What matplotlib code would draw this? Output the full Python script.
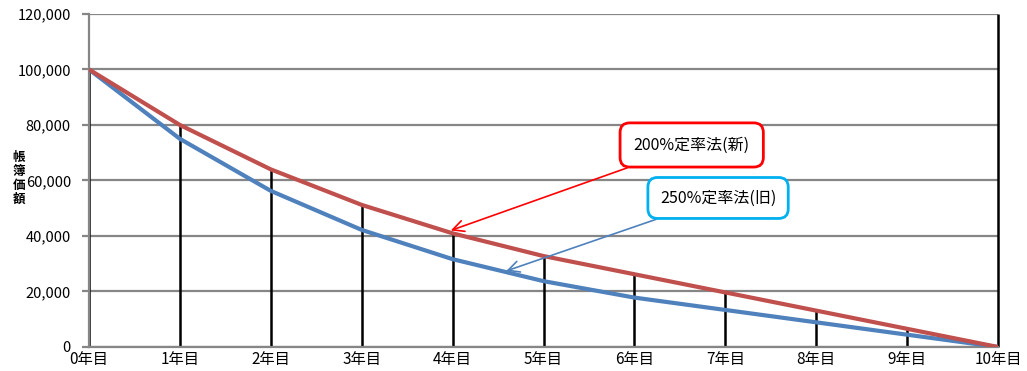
import matplotlib
matplotlib.use("Agg")
import matplotlib.pyplot as plt

plt.rcParams["font.family"] = ["Noto Sans CJK JP", "DejaVu Sans"]

# === DATA ===
years = list(range(11))
year_labels = [f"{y}年目" for y in years]
new_200 = [100000, 80000, 64000, 51200, 40960, 32768, 26214, 19660, 13107, 6553, 1]
old_250 = [100000, 75000, 56250, 42188, 31641, 23730, 17798, 13348, 8890, 4432, 1]
y_ticks = [0, 20000, 40000, 60000, 80000, 100000, 120000]

# === COLORS ===
RED = "#C0504D"
BLUE = "#4F81BD"
GRID = "#868686"

# === PLOT ===
fig = plt.figure(figsize=(10.27, 3.71), dpi=100)
ax = fig.add_axes([0.0867, 0.0647, 0.8851, 0.8976])

ax.set_xlim(0, 10)
ax.set_ylim(0, 120000)
ax.set_yticks(y_ticks)
ax.set_yticklabels([f"{v:,}" for v in y_ticks], fontsize=10.5)
ax.set_xticks(years)
ax.set_xticklabels(year_labels, fontsize=11)
ax.grid(axis="y", color=GRID, linewidth=1.6)
ax.set_axisbelow(True)
ax.tick_params(axis="y", length=5, width=1.6, color=GRID, pad=8)
ax.tick_params(axis="x", length=0, pad=3)
for side in ["top", "right"]:
    ax.spines[side].set_visible(False)
ax.spines["left"].set_color(GRID)
ax.spines["left"].set_linewidth(1.6)
ax.spines["bottom"].set_color(GRID)
ax.spines["bottom"].set_linewidth(1.6)

# drop lines from the 200% curve, full height at the last year
tops = new_200[:-1] + [120000]
ax.vlines(years, 0, tops, color="black", linewidth=1.8, zorder=2, clip_on=False)

ax.plot(years, old_250, color=BLUE, linewidth=3, zorder=3, solid_capstyle="butt")
ax.plot(years, new_200, color=RED, linewidth=3, zorder=4, solid_capstyle="butt")

ax.annotate("200%定率法(新)", xy=(3.98, 42000), xytext=(6.63, 72800),
            fontsize=11.5, ha="center", va="center", zorder=6,
            bbox=dict(boxstyle="round,pad=0.85,rounding_size=0.6", fc="white",
                      ec="#FF0000", lw=2),
            arrowprops=dict(arrowstyle="->,head_length=0.7,head_width=0.35",
                            color="#FF0000", lw=1.2, shrinkA=0, shrinkB=0))
ax.annotate("250%定率法(旧)", xy=(4.59, 27400), xytext=(6.92, 53700),
            fontsize=11.5, ha="center", va="center", zorder=6,
            bbox=dict(boxstyle="round,pad=0.75,rounding_size=0.6", fc="white",
                      ec="#00B0F0", lw=2),
            arrowprops=dict(arrowstyle="->,head_length=0.7,head_width=0.35",
                            color=BLUE, lw=1.2, shrinkA=0, shrinkB=0))

fig.text(0.0185, 0.52, "\n".join("帳簿価額"), fontsize=9, fontweight="bold",
         ha="center", va="center", linespacing=1.1)

fig.savefig("out.png", dpi=100)
